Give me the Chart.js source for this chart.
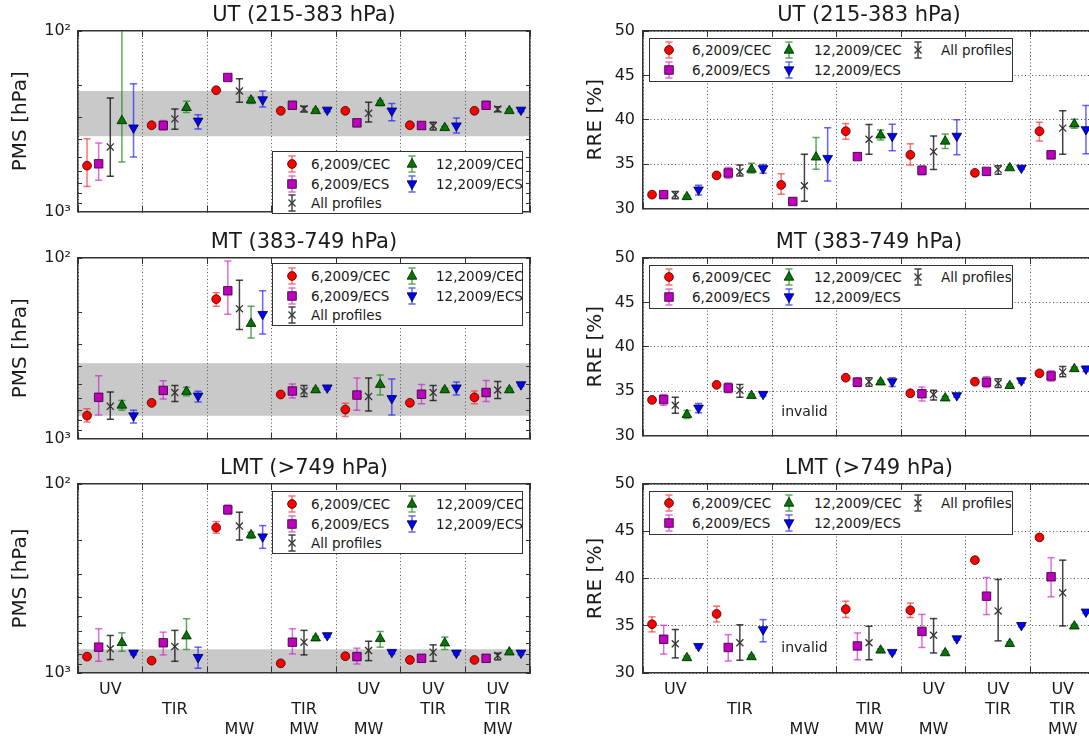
<!DOCTYPE html>
<html>
<head>
<meta charset="utf-8">
<script src="https://cdn.jsdelivr.net/npm/chart.js@4.4.1/dist/chart.umd.min.js"></script>
<style>
  html, body { margin: 0; padding: 0; background: #fff; }
  body { position: relative; width: 1089px; height: 743px; overflow: hidden; }
  canvas { position: absolute; }
  .legend { position: absolute; background: #fff; border: 1.5px solid #333; box-sizing: border-box;
            font-family: 'DejaVu Sans', sans-serif; font-size: 13.5px; color: #1a1a1a; }
  .legend .txt { position: absolute; white-space: nowrap; height: 18px; line-height: 18px; }
  .legend svg { position: absolute; }
</style>
</head>
<body>
<script>
// group labels (three rows: UV / TIR / MW)
const groupLabels = [
  ['UV', '', ''], ['', 'TIR', ''], ['', '', 'MW'], ['', 'TIR', 'MW'],
  ['UV', '', 'MW'], ['UV', 'TIR', ''], ['UV', 'TIR', 'MW']
];
const seriesNames = ['6,2009/CEC', '6,2009/ECS', 'All profiles', '12,2009/CEC', '12,2009/ECS'];
const seriesOffset = [-0.36, -0.18, 0, 0.18, 0.36];
const pmsTicks = [100, 200, 300, 400, 500, 600, 700, 800, 900, 1000];
const rreTicks = [30, 35, 40, 45, 50];
const bandUT = [215, 383];
const bandMT = [383, 749];
const bandLMT = [749, 1000];

// rows = series (6CEC, 6ECS, All, 12CEC, 12ECS), columns = groups
// UT, PMS [hPa]
const utPmsMid = [[558, 333, 213, 277, 277, 333, 277], [545, 334, 181, 258, 323, 334, 258],
  [439, 307, 215, 270, 286, 335, 271], [315, 266, 242, 277, 250, 344, 277], [344, 315, 240, 274, 277, 335, 274]];
const utPmsLo = [[396, 326, 208, 271, 271, 326, 271], [418, 313, 176, 252, 309, 320, 252],
  [235, 271, 184, 261, 248, 320, 263], [90, 245, 234, 271, 243, 337, 271], [196, 291, 215, 268, 252, 304, 268]];
const utPmsHi = [[728, 340, 218, 283, 283, 340, 283], [673, 354, 186, 264, 338, 350, 264],
  [638, 351, 248, 281, 319, 354, 280], [532, 283, 252, 283, 260, 352, 283], [500, 349, 264, 280, 314, 368, 280]];

// MT, PMS [hPa]
const mtPmsMid = [[748, 635, 169, 571, 692, 635, 592], [592, 542, 152, 546, 575, 569, 557],
  [664, 557, 191, 546, 585, 557, 539], [656, 550, 231, 539, 503, 539, 539], [748, 581, 205, 524, 600, 524, 503]];
const mtPmsLo = [[684, 620, 156, 558, 638, 620, 546], [449, 479, 104, 499, 463, 503, 477],
  [553, 509, 133, 509, 463, 509, 483], [617, 520, 185, 527, 445, 527, 527], [698, 548, 152, 512, 469, 487, 492]];
const mtPmsHi = [[811, 650, 185, 584, 757, 650, 643], [742, 605, 205, 597, 698, 643, 625],
  [782, 625, 249, 585, 706, 617, 600], [698, 580, 278, 551, 575, 551, 551], [822, 628, 264, 536, 742, 575, 514]];

// LMT, PMS [hPa]
const lmtPmsMid = [[819, 860, 170, 889, 815, 853, 853], [730, 692, 137, 687, 819, 836, 836],
  [745, 724, 167, 687, 760, 776, 809], [692, 638, 186, 654, 659, 695, 776], [783, 826, 190, 633, 776, 783, 783]];
const lmtPmsLo = [[800, 840, 158, 870, 796, 834, 834], [583, 608, 129, 583, 739, 805, 805],
  [633, 595, 141, 595, 679, 710, 785], [613, 516, 180, 640, 603, 645, 760], [766, 730, 166, 620, 760, 766, 766]];
const lmtPmsHi = [[838, 880, 182, 910, 834, 872, 872], [867, 802, 144, 793, 896, 868, 868],
  [849, 867, 198, 802, 860, 867, 852], [767, 751, 194, 668, 730, 751, 792], [800, 944, 219, 647, 792, 800, 800]];

// UT, RRE [%]
const utRreMid = [[31.55, 33.72, 32.65, 38.7, 36.04, 34.0, 38.7], [31.55, 34.0, 30.78, 35.84, 34.28, 34.17, 36.04],
  [31.55, 34.14, 32.55, 37.8, 36.4, 34.4, 39.05], [31.3, 34.4, 35.77, 38.25, 37.56, 34.56, 39.5], [32.1, 34.5, 35.66, 38.14, 38.16, 34.56, 38.9]];
const utRreLo = [[31.35, 33.55, 31.6, 37.8, 34.9, 33.85, 37.6], [31.4, 33.4, 30.6, 35.5, 33.8, 33.95, 35.6],
  [31.1, 33.65, 30.8, 36.1, 34.38, 33.85, 36.1], [31.15, 34.0, 34.4, 37.7, 36.75, 34.4, 39.05], [31.5, 33.96, 33.1, 36.5, 36.04, 34.4, 36.15]];
const utRreHi = [[31.75, 33.9, 33.9, 39.56, 37.3, 34.15, 39.7], [31.7, 34.6, 30.95, 36.2, 34.8, 34.4, 36.45],
  [31.9, 34.9, 36.1, 39.45, 38.16, 34.8, 41.0], [31.45, 35.1, 38.0, 38.85, 38.4, 34.7, 40.05], [32.6, 34.95, 39.1, 39.5, 40.0, 34.7, 41.6]];

// MT, RRE [%] (MW invalid)
const mtRreMid = [[34.0, 35.7, null, 36.5, 34.75, 36.06, 37.0], [34.04, 35.35, null, 36.0, 34.7, 36.0, 36.7],
  [33.4, 35.1, null, 36.06, 34.6, 35.9, 37.16], [32.34, 34.47, null, 36.0, 34.2, 35.6, 37.5], [33.1, 34.65, null, 36.06, 34.5, 36.17, 37.5]];
const mtRreLo = [[33.8, 35.5, null, 36.3, 34.55, 35.86, 36.8], [33.4, 34.8, null, 35.5, 33.87, 35.4, 36.1],
  [32.5, 34.3, null, 35.55, 34.0, 35.4, 36.6], [31.9, 34.3, null, 35.8, 34.0, 35.4, 37.3], [32.55, 34.45, null, 35.5, 34.3, 35.9, 37.2]];
const mtRreHi = [[34.2, 35.9, null, 36.7, 34.95, 36.26, 37.2], [34.6, 35.9, null, 36.5, 35.46, 36.6, 37.3],
  [34.3, 35.74, null, 36.5, 35.1, 36.4, 37.76], [32.8, 34.65, null, 36.2, 34.4, 35.8, 37.7], [33.6, 34.85, null, 36.5, 34.7, 36.45, 37.8]];

// LMT, RRE [%] (MW invalid)
const lmtRreMid = [[35.16, 36.25, null, 36.75, 36.64, 41.94, 44.35], [33.57, 32.7, null, 32.86, 34.4, 38.13, 40.18],
  [33.1, 33.2, null, 33.2, 33.99, 36.57, 38.48], [31.6, 31.7, null, 32.4, 32.12, 33.1, 34.95], [32.83, 34.6, null, 32.2, 33.64, 35.05, 36.47]];
const lmtRreLo = [[34.35, 35.4, null, 35.87, 35.87, 41.8, 44.2], [32.0, 31.27, null, 31.4, 32.7, 36.18, 38.06],
  [31.6, 31.35, null, 31.4, 32.12, 33.4, 34.98], [31.4, 31.5, null, 32.25, 31.95, 32.95, 34.8], [32.65, 33.3, null, 32.05, 33.5, 34.9, 36.3]];
const lmtRreHi = [[35.94, 37.07, null, 37.6, 37.4, 42.1, 44.5], [35.05, 34.06, null, 34.24, 36.2, 40.1, 42.2],
  [34.6, 35.1, null, 34.95, 35.76, 39.9, 41.94], [31.8, 31.9, null, 32.55, 32.3, 33.3, 35.15], [33.0, 35.65, null, 32.35, 33.8, 35.2, 36.65]];

const seriesStyle = [
  {pointStyle: 'circle', radius: 4.4, rot: 0, fill: '#ff0000', edge: '#3a0000', bw: 0.8, bar: 'rgba(255,30,30,0.62)'},
  {pointStyle: 'rect', radius: 6, rot: 0, fill: '#bf00bf', edge: '#2a002a', bw: 0.8, bar: 'rgba(205,20,205,0.62)'},
  {pointStyle: 'crossRot', radius: 5, rot: 0, fill: '#333', edge: '#333', bw: 1.3, bar: 'rgba(20,20,20,0.8)'},
  {pointStyle: 'triangle', radius: 5.6, rot: 0, fill: '#007800', edge: '#001a00', bw: 0.8, bar: 'rgba(30,140,30,0.72)'},
  {pointStyle: 'triangle', radius: 5.6, rot: 180, fill: '#0000ff', edge: '#00002a', bw: 0.8, bar: 'rgba(30,30,255,0.68)'}
];

const FONT = "'DejaVu Sans', sans-serif";
Chart.defaults.font.family = FONT;
Chart.defaults.color = '#1a1a1a';

const rowTop = [31, 258, 484];
const plotH = 189;

// grey band and 'invalid' note
const extras = {
  id: 'extras',
  beforeDraw(chart, args, opts) {
    if (!opts.band) return;
    const {ctx, chartArea: a} = chart;
    const y = chart.scales.y;
    const y1 = y.getPixelForValue(opts.band[0]);
    const y2 = y.getPixelForValue(opts.band[1]);
    ctx.save();
    ctx.fillStyle = '#c9c9c9';
    ctx.fillRect(a.left, Math.min(y1, y2), a.right - a.left, Math.abs(y2 - y1));
    ctx.restore();
  },
  afterDatasetsDraw(chart, args, opts) {
    if (!opts.note) return;
    const {ctx} = chart;
    ctx.save();
    ctx.font = '14px ' + FONT;
    ctx.fillStyle = '#1a1a1a';
    ctx.textAlign = 'center';
    ctx.textBaseline = 'middle';
    ctx.fillText(opts.note, chart.scales.x.getPixelForValue(2), chart.scales.y.getPixelForValue(32.6));
    ctx.restore();
  }
};

function makeDatasets(mid, lo, hi) {
  const marks = [], bars = [];
  seriesNames.forEach((name, s) => {
    const st = seriesStyle[s];
    const pts = [], segs = [];
    mid[s].forEach((v, g) => {
      if (v === null) return;
      const x = g + seriesOffset[s];
      pts.push({x: x, y: v});
      segs.push({x: x, y: lo[s][g]}, {x: x, y: hi[s][g]}, {x: x, y: null});
    });
    marks.push({
      label: name, data: pts, showLine: false,
      pointStyle: st.pointStyle, pointRadius: st.radius, pointRotation: st.rot,
      pointBackgroundColor: st.fill, pointBorderColor: st.edge, pointBorderWidth: st.bw
    });
    bars.push({
      label: name + ' error', data: segs, showLine: true, spanGaps: false,
      borderColor: st.bar, borderWidth: 1.5,
      pointStyle: 'line', pointRadius: 3.6, pointBorderColor: st.bar, pointBorderWidth: 1.5
    });
  });
  return marks.concat(bars);
}

function xAxis(position, showLabels, h) {
  return {
    type: 'linear', position: position, min: -0.5, max: 6.5,
    afterBuildTicks: s => { s.ticks = groupLabels.map((_, i) => ({value: i})); },
    ticks: {
      display: showLabels, autoSkip: false, maxRotation: 0, minRotation: 0, padding: 13,
      font: {size: 16, lineHeight: '20px'}, color: '#1a1a1a',
      callback: (v, i) => groupLabels[i]
    },
    grid: {offset: true, drawOnChartArea: position === 'bottom', color: '#555', lineWidth: 1,
           tickLength: -6, tickColor: '#333', tickWidth: 1},
    border: {color: '#333', width: 1.5, dash: [1, 2.5]},
    afterFit: s => { s.height = h; }
  };
}

function yAxis(kind, position, yw) {
  const left = position === 'left';
  if (kind === 'pms') {
    return {
      type: 'logarithmic', position: position, min: 100, max: 1000, reverse: true,
      afterBuildTicks: s => { s.ticks = pmsTicks.map(v => ({value: v})); },
      ticks: {display: left, autoSkip: false, padding: 11, font: {size: 16}, color: '#1a1a1a',
              callback: v => v === 100 ? '10²' : (v === 1000 ? '10³' : '')},
      grid: {drawOnChartArea: false, tickLength: -4, tickColor: '#333', tickWidth: 1},
      border: {color: '#333', width: 1.5},
      title: {display: left, text: 'PMS [hPa]', font: {size: 20}, color: '#1a1a1a', padding: {top: 9, bottom: 0}},
      afterFit: s => { s.width = left ? yw : 0; }
    };
  }
  return {
    type: 'linear', position: position, min: 30, max: 50,
    afterBuildTicks: s => { s.ticks = rreTicks.map(v => ({value: v})); },
    ticks: {display: left, autoSkip: false, padding: 14, font: {size: 16}, color: '#1a1a1a',
            callback: v => String(v)},
    grid: {drawOnChartArea: left, color: '#555', lineWidth: 1, tickLength: -6, tickColor: '#333', tickWidth: 1},
    border: {color: '#333', width: 1.5, dash: [1, 2.5]},
    title: {display: left, text: 'RRE [%]', font: {size: 20}, color: '#1a1a1a', padding: {top: 9, bottom: 0}},
    afterFit: s => { s.width = left ? yw : 0; }
  };
}

function glyph(st) {
  let m;
  if (st.pointStyle === 'circle') {
    m = `<circle cx="10" cy="12" r="${st.radius}" fill="${st.fill}" stroke="${st.edge}" stroke-width="${st.bw}"/>`;
  } else if (st.pointStyle === 'rect') {
    m = `<rect x="5.75" y="7.75" width="8.5" height="8.5" fill="${st.fill}" stroke="${st.edge}" stroke-width="${st.bw}"/>`;
  } else if (st.pointStyle === 'crossRot') {
    m = `<path d="M6.5 8.5L13.5 15.5M13.5 8.5L6.5 15.5" stroke="${st.edge}" stroke-width="${st.bw}"/>`;
  } else if (st.rot === 0) {
    m = `<polygon points="10,6.4 14.85,15.2 5.15,15.2" fill="${st.fill}" stroke="${st.edge}" stroke-width="${st.bw}"/>`;
  } else {
    m = `<polygon points="10,17.6 14.85,8.8 5.15,8.8" fill="${st.fill}" stroke="${st.edge}" stroke-width="${st.bw}"/>`;
  }
  const bar = `<path d="M10 4V20M6.4 4H13.6M6.4 20H13.6" stroke="${st.bar}" stroke-width="1.5" fill="none"/>`;
  return `<svg width="20" height="24" viewBox="0 0 20 24">${bar}${m}</svg>`;
}

function addLegend(lg) {
  const div = document.createElement('div');
  div.className = 'legend';
  div.style.left = lg.left + 'px';
  div.style.top = lg.top + 'px';
  div.style.width = lg.width + 'px';
  div.style.height = lg.height + 'px';
  lg.cols.forEach((col, ci) => {
    col.forEach((s, ri) => {
      const cy = lg.rows[ri];
      const holder = document.createElement('div');
      holder.innerHTML = glyph(seriesStyle[s]);
      const svg = holder.firstChild;
      svg.style.left = (lg.markX[ci] - 10) + 'px';
      svg.style.top = (cy - 12) + 'px';
      div.appendChild(svg);
      const t = document.createElement('div');
      t.className = 'txt';
      t.textContent = seriesNames[s];
      t.style.left = lg.textX[ci] + 'px';
      t.style.top = (cy - 9) + 'px';
      div.appendChild(t);
    });
  });
  document.body.appendChild(div);
}

const panels = [
  {row: 0, col: 0, title: 'UT (215-383 hPa)', kind: 'pms', mid: utPmsMid, lo: utPmsLo, hi: utPmsHi, band: bandUT, legendTop: 151},
  {row: 1, col: 0, title: 'MT (383-749 hPa)', kind: 'pms', mid: mtPmsMid, lo: mtPmsLo, hi: mtPmsHi, band: bandMT, legendTop: 263},
  {row: 2, col: 0, title: 'LMT (>749 hPa)', kind: 'pms', mid: lmtPmsMid, lo: lmtPmsLo, hi: lmtPmsHi, band: bandLMT, legendTop: 491},
  {row: 0, col: 1, title: 'UT (215-383 hPa)', kind: 'rre', mid: utRreMid, lo: utRreLo, hi: utRreHi, legendTop: 38},
  {row: 1, col: 1, title: 'MT (383-749 hPa)', kind: 'rre', mid: mtRreMid, lo: mtRreLo, hi: mtRreHi, note: 'invalid', legendTop: 265},
  {row: 2, col: 1, title: 'LMT (>749 hPa)', kind: 'rre', mid: lmtRreMid, lo: lmtRreLo, hi: lmtRreHi, note: 'invalid', legendTop: 491}
];

panels.forEach(p => {
  const bottomRow = p.row === 2;
  const xh = bottomRow ? 70 : 12;
  const canvasLeft = p.col === 0 ? 0 : 575;
  const yw = p.col === 0 ? 78 : 68;
  const width = p.col === 0 ? 545 : 535;
  const height = 31 + plotH + xh;
  const cv = document.createElement('canvas');
  cv.width = width; cv.height = height;
  cv.style.left = canvasLeft + 'px';
  cv.style.top = (rowTop[p.row] - 31) + 'px';
  cv.style.width = width + 'px'; cv.style.height = height + 'px';
  document.body.appendChild(cv);

  new Chart(cv.getContext('2d'), {
    type: 'scatter',
    data: {datasets: makeDatasets(p.mid, p.lo, p.hi)},
    options: {
      responsive: false, animation: false, events: [],
      layout: {padding: {left: 0, right: 15, top: 0, bottom: 0}},
      plugins: {
        legend: {display: false},
        tooltip: {enabled: false},
        title: {display: true, text: p.title, fullSize: false, color: '#1a1a1a',
                font: {size: 21, weight: 'normal', lineHeight: '22px'}, padding: {top: 5, bottom: 4}},
        extras: {band: p.band, note: p.note}
      },
      scales: {
        x: xAxis('bottom', bottomRow, xh),
        xT: xAxis('top', false, 0),
        y: yAxis(p.kind, 'left', yw),
        yR: yAxis(p.kind, 'right', yw)
      }
    },
    plugins: [extras]
  });

  if (p.col === 0) {
    addLegend({left: 272, top: p.legendTop, width: 251, height: 63,
               cols: [[0, 1, 2], [3, 4]], rows: [12, 31.5, 51], markX: [19, 139], textX: [38, 163]});
  } else {
    addLegend({left: 649, top: p.legendTop, width: 364, height: 44,
               cols: [[0, 1], [3, 4], [2]], rows: [11, 31], markX: [19, 139, 268], textX: [42, 164, 291]});
  }
});
</script>
</body>
</html>
